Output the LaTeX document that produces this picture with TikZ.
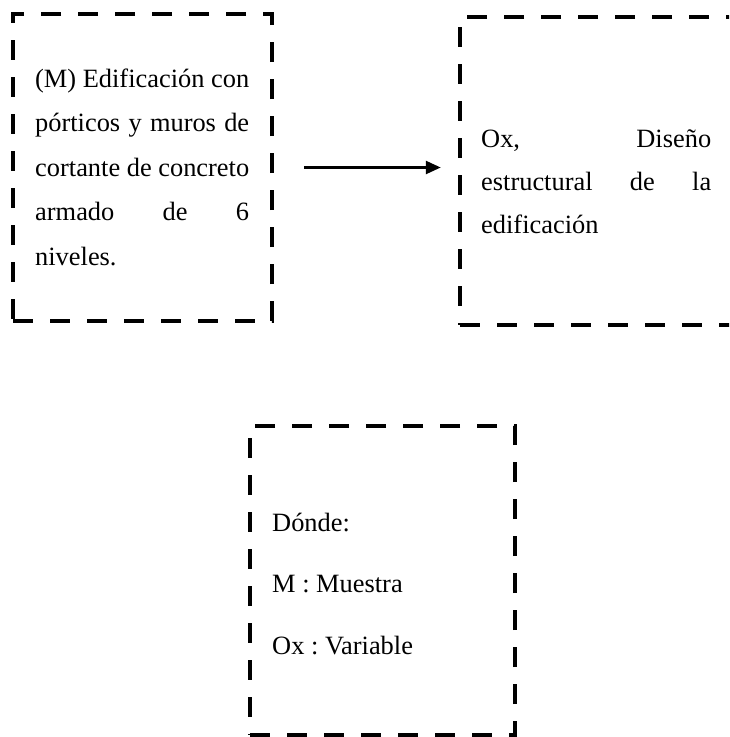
\documentclass[tikz,border=0pt]{standalone}
\usepackage{fontspec}
\setmainfont{Liberation Serif}
\usetikzlibrary{arrows.meta}
\frenchspacing
\newcommand\jline[1]{\hbox to \hsize{#1}}
\newcommand\pline[1]{\hbox{#1}}
\tikzset{
  x=1pt, y=-1pt,
  dbox/.style={draw, line width=4.5pt, dash pattern=on 20pt off 17pt, line join=miter, inner sep=0pt, rectangle},
  txt/.style={anchor=base west, inner sep=0pt, font=\fontsize{26.4pt}{44pt}\selectfont\frenchspacing},
  conn/.style={line width=2.6pt, -{Triangle[length=15pt,width=13pt]}}
}
\begin{document}
\begin{tikzpicture}
\useasboundingbox (0,0) rectangle (729,737);
\clip (0,0) rectangle (729,737);
\node[dbox, minimum width=259pt, minimum height=307pt] (b1) at (142.5,167.5) {};
\node[dbox, minimum width=285pt, minimum height=308pt] (b2) at (602.5,171) {};
\node[dbox, minimum width=265pt, minimum height=309pt] (b3) at (382.5,580.5) {};
\node[txt] (t1) at (35,87) {\parbox[t]{214pt}{\baselineskip=44.5pt
  \jline{(M)\hfill Edificación\hfill con}
  \jline{pórticos\hfill y\hfill muros\hfill de}
  \jline{cortante\hfill de\hfill concreto}
  \jline{armado\hfill de\hfill 6}
  \pline{niveles.}}};
\node[txt] (t2) at (481,147) {\parbox[t]{230pt}{\baselineskip=43pt
  \jline{Ox,\hfill Diseño}
  \jline{estructural\hfill de\hfill la}
  \pline{edificación}}};
\node[txt] (t3) at (272,531) {\parbox[t]{230pt}{\baselineskip=61.5pt
  \pline{Dónde:}
  \pline{M : Muestra}
  \pline{Ox : Variable}}};
\draw[conn, shorten <=30pt, shorten >=17pt] (b1.east) -- (b1.east -| b2.west);
\end{tikzpicture}
\end{document}
